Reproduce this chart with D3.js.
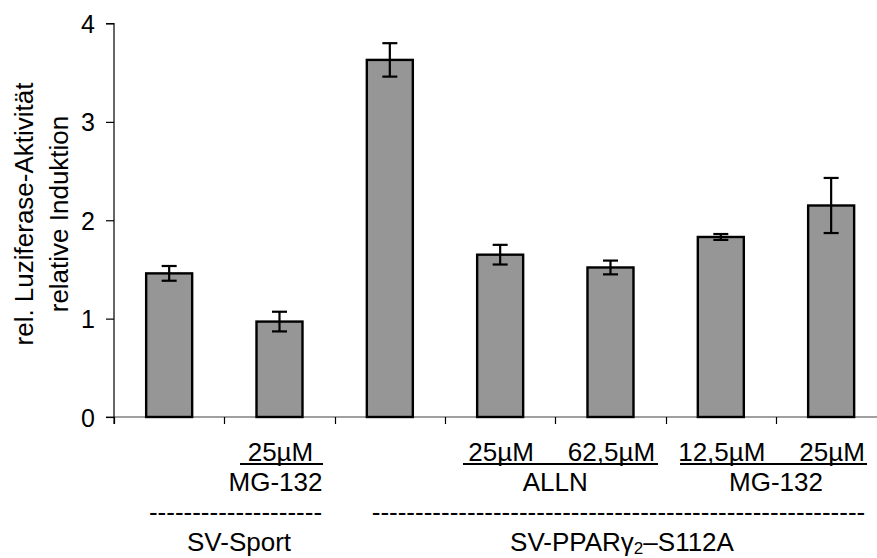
<!DOCTYPE html>
<html><head><meta charset="utf-8">
<script src="https://cdn.jsdelivr.net/npm/d3@7"></script>
<style>body{margin:0;background:#fff}svg{display:block;font-family:Arial,"Liberation Sans",sans-serif}</style>
</head><body><div id="c"></div>
<script>
const categories = ["SV-Sport ctrl","SV-Sport MG-132 25µM","PPAR ctrl","ALLN 25µM","ALLN 62,5µM","MG-132 12,5µM","MG-132 25µM"];
const values = [1.46, 0.97, 3.63, 1.65, 1.52, 1.83, 2.15];
const errors = [0.075, 0.10, 0.17, 0.10, 0.07, 0.03, 0.28];
const yTicks = [0, 1, 2, 3, 4];
const doseLabels = ["", "25µM", "", "25µM", "62,5µM", "12,5µM", "25µM"];
const drugGroups = [{label:"MG-132", from:1, to:1}, {label:"ALLN", from:3, to:4}, {label:"MG-132", from:5, to:6}];
const constructGroups = [{label:"SV-Sport", dashes:20, from:0, to:1}, {label:"SV-PPAR", dashes:57, from:2, to:6}];

const W = 877, H = 558;
const svg = d3.select("#c").append("svg").attr("width", W).attr("height", H);
const x0 = 114, step = 110.33;
const x = d3.scaleBand().domain(categories).range([x0, x0 + step * categories.length])
  .paddingInner(0.583).paddingOuter(0.2915);
const y = d3.scaleLinear().domain([0, 4]).range([417, 23.5]);
const FS = 26;

// x axis gray line
svg.append("line").attr("x1", 106).attr("x2", W).attr("y1", y(0)).attr("y2", y(0))
  .attr("stroke", "#808080").attr("stroke-width", 1.6);
// x ticks at band boundaries
categories.forEach((c, i) => {
  const xx = Math.round(x0 + i * step) + 0.5;
  svg.append("line").attr("x1", xx).attr("x2", xx).attr("y1", y(0)).attr("y2", y(0) + 7)
    .attr("stroke", "#000").attr("stroke-width", 1.2);
});

// y axis
const yAxis = d3.axisLeft(y).tickValues(yTicks).tickSize(8).tickPadding(11).tickFormat(d3.format("d"));
const gy = svg.append("g").attr("transform", `translate(${x0},0)`).call(yAxis);
gy.select(".domain").attr("stroke", "#000").attr("stroke-width", 1.2).attr("d", `M-8,${y(4)}H0V${y(0)+7}`);
gy.selectAll(".tick line").attr("stroke", "#000").attr("stroke-width", 1.2);
gy.selectAll(".tick text").attr("font-size", 25).attr("font-family", "Arial, 'Liberation Sans', sans-serif").attr("fill", "#000").attr("dy", "0.36em");

// bars
svg.selectAll("rect.bar").data(categories).join("rect").attr("class", "bar")
  .attr("x", d => x(d)).attr("width", x.bandwidth())
  .attr("y", (d, i) => y(values[i])).attr("height", (d, i) => y(0) - y(values[i]))
  .attr("fill", "#969696").attr("stroke", "#000").attr("stroke-width", 2.4);

// error bars
const cap = 7.5;
categories.forEach((c, i) => {
  const cx = x(c) + x.bandwidth() / 2;
  const g = svg.append("g").attr("stroke", "#000").attr("stroke-width", 2.2);
  g.append("line").attr("x1", cx).attr("x2", cx).attr("y1", y(values[i] + errors[i])).attr("y2", y(values[i] - errors[i]));
  g.append("line").attr("x1", cx - cap).attr("x2", cx + cap).attr("y1", y(values[i] + errors[i])).attr("y2", y(values[i] + errors[i]));
  g.append("line").attr("x1", cx - cap).attr("x2", cx + cap).attr("y1", y(values[i] - errors[i])).attr("y2", y(values[i] - errors[i]));
});

// dose labels
categories.forEach((c, i) => {
  if (!doseLabels[i]) return;
  svg.append("text").attr("x", x(c) + x.bandwidth() / 2 + 1).attr("y", 461)
    .attr("text-anchor", "middle").attr("font-size", FS).text(doseLabels[i]);
});
// underlines for drug groups
const underl = [[240, 323], [463, 658], [680, 867]];
drugGroups.forEach((g, k) => {
  svg.append("line").attr("x1", underl[k][0]).attr("x2", underl[k][1]).attr("y1", 464).attr("y2", 464)
    .attr("stroke", "#000").attr("stroke-width", 2);
  const cx = (x(categories[g.from]) + x(categories[g.to]) + x.bandwidth()) / 2;
  svg.append("text").attr("x", g.from === g.to ? cx - 4 : cx).attr("y", 491)
    .attr("text-anchor", "middle").attr("font-size", FS).text(g.label);
});

// construct groups
const dashCenters = [235.5, 618.5];
const nameCenters = [239, 622];
constructGroups.forEach((g, k) => {
  svg.append("text").attr("x", dashCenters[k]).attr("y", 521).attr("text-anchor", "middle")
    .attr("font-size", FS).text("-".repeat(g.dashes));
  const t = svg.append("text").attr("x", nameCenters[k]).attr("y", 551).attr("text-anchor", "middle")
    .attr("font-size", FS);
  if (k === 0) t.text(g.label);
  else {
    t.append("tspan").text("SV-PPAR");
    t.append("tspan").text("γ");
    t.append("tspan").attr("font-size", 17).attr("dy", 3).text("2");
    t.append("tspan").attr("dy", -3).text("–S112A");
  }
});

// y label
const yl = svg.append("g").attr("transform", "translate(0,214) rotate(-90)");
yl.append("text").attr("x", 0).attr("y", 33).attr("text-anchor", "middle").attr("font-size", FS).text("rel. Luziferase-Aktivität");
yl.append("text").attr("x", 0).attr("y", 68).attr("text-anchor", "middle").attr("font-size", FS).text("relative Induktion");
</script></body></html>
